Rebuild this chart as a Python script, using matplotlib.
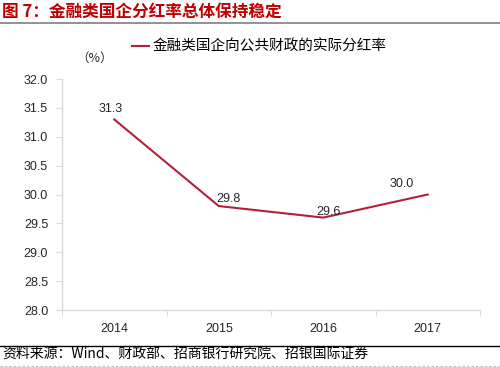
import matplotlib
matplotlib.use("Agg")
import matplotlib.pyplot as plt
from matplotlib.lines import Line2D

plt.rcParams["font.family"] = ["Liberation Sans", "Noto Sans CJK SC", "DejaVu Sans"]

years = ["2014", "2015", "2016", "2017"]
payout = [31.3, 29.8, 29.6, 30.0]
y_ticks = [28.0, 28.5, 29.0, 29.5, 30.0, 30.5, 31.0, 31.5, 32.0]

# label offsets in pixels
label_offsets = [(-4, 10), (10, 7), (5, 6), (-26, 11)]

LINE_RED = "#B3203A"
TITLE_RED = "#C00000"
GRID_GRAY = "#D9D9D9"
CJK = ["Noto Sans CJK SC", "DejaVu Sans"]

fig = plt.figure(figsize=(5.0, 3.67), dpi=100)
ax = fig.add_axes([0.124, 0.1553, 0.836, 0.6294])

x = list(range(len(years)))
ax.plot(x, payout, color=LINE_RED, lw=1.5, solid_joinstyle="round")

for xi, v, (dx, dy) in zip(x, payout, label_offsets):
    ax.annotate(f"{v:.1f}", (xi, v), xytext=(dx, dy), textcoords="offset pixels",
                ha="center", va="center", fontsize=9, color="#262626")

ax.set_xlim(-0.5, len(years) - 0.5)
ax.set_ylim(y_ticks[0], y_ticks[-1])
ax.set_yticks(y_ticks)
ax.set_yticklabels([f"{t:.1f}" for t in y_ticks], fontsize=9, color="#262626")
ax.set_xticks(x)
ax.set_xticklabels(years, fontsize=9, color="#262626")
ax.set_xticks([i - 0.5 for i in range(len(years) + 1)], minor=True)
ax.tick_params(axis="x", which="major", length=0, pad=9)
ax.tick_params(axis="x", which="minor", length=4, color=GRID_GRAY, direction="out")
ax.tick_params(axis="y", length=4, color=GRID_GRAY, direction="out", pad=6)

for side in ["top", "right"]:
    ax.spines[side].set_visible(False)
for side in ["left", "bottom"]:
    ax.spines[side].set_color(GRID_GRAY)
    ax.spines[side].set_linewidth(1.0)

# unit label
fig.text(0.19, 0.842, "（%）", ha="center", va="center", fontsize=9, color="#262626",
         family=CJK)

# legend
handle = Line2D([0], [0], color=LINE_RED, lw=1.5)
leg = fig.legend([handle], ["金融类国企向公共财政的实际分红率"], loc="center",
                 bbox_to_anchor=(0.518, 0.872), frameon=False, handlelength=1.2,
                 handletextpad=0.2, prop={"family": CJK, "size": 10.5})

# title and rules
fig.text(0.004, 0.967, "图 7：金融类国企分红率总体保持稳定", ha="left", va="center",
         fontsize=12, fontweight="bold", color=TITLE_RED, family=CJK)
fig.add_artist(Line2D([0, 1], [0.937, 0.937], color="#7F7F7F", lw=1.2))
fig.add_artist(Line2D([0, 1], [0.058, 0.058], color="#000000", lw=1.0))
fig.text(0.004, 0.035, "资料来源：Wind、财政部、招商银行研究院、招银国际证券", ha="left",
         va="center", fontsize=10, color="#000000", family=CJK)
fig.add_artist(Line2D([0, 1], [0.003, 0.003], color="#BFBFBF", lw=0.8, ls=(0, (2, 2))))

fig.savefig("out.png", dpi=100)
